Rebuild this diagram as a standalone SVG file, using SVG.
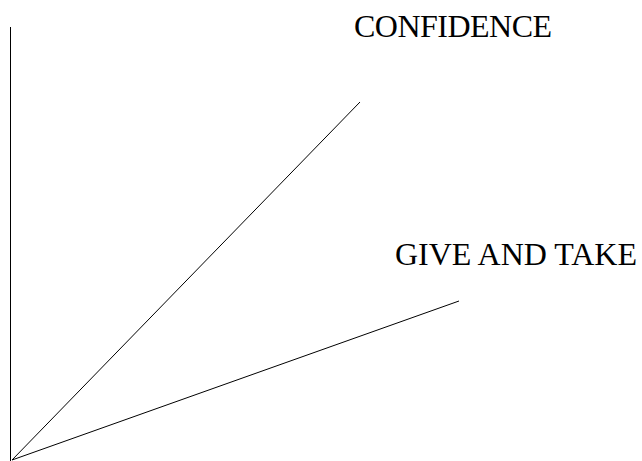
<svg xmlns="http://www.w3.org/2000/svg" width="642" height="461" viewBox="0 0 642 461">
<style>
.ln{stroke:#000;stroke-width:1;fill:none}
.lb{font-family:"Liberation Serif","Times New Roman",serif;font-size:32px;fill:#000}
</style>
<rect width="642" height="461" fill="#fff"/>
<g id="connectors">
<line class="ln" x1="10.5" y1="27" x2="10.5" y2="461"/>
<line class="ln" x1="12" y1="460" x2="360" y2="102"/>
<line class="ln" x1="12" y1="460" x2="459" y2="301"/>
</g>
<g id="confidence"><text class="lb" x="354" y="37" textLength="198" lengthAdjust="spacing">CONFIDENCE</text></g>
<g id="give-and-take"><text class="lb" x="395" y="265" textLength="242" lengthAdjust="spacing">GIVE AND TAKE</text></g>
</svg>
